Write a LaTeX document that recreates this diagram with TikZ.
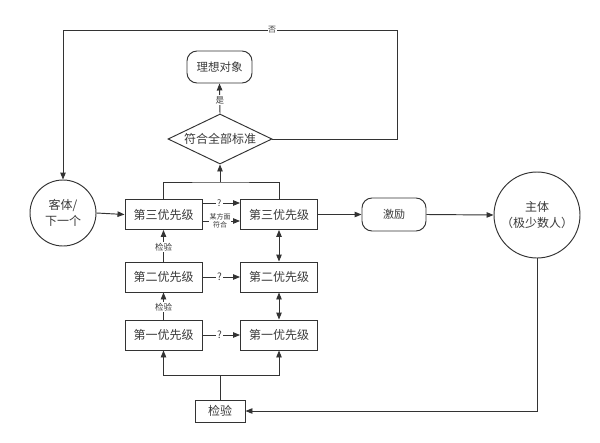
\documentclass[tikz,border=0pt]{standalone}
\usepackage{fontspec}
\setmainfont{Noto Sans CJK SC}
\usetikzlibrary{arrows.meta,shapes.geometric,calc}
\definecolor{ln}{HTML}{333333}
\definecolor{tx}{HTML}{3A3A3A}
\begin{document}
\begin{tikzpicture}[x=1pt,y=-1pt,
  every node/.style={text=tx},
  line/.style={draw=ln,line width=0.95pt},
  arr/.style={line,-{Triangle[length=7pt,width=5.5pt]}},
  darr/.style={line,{Triangle[length=7pt,width=5.5pt]}-{Triangle[length=7pt,width=5.5pt]}},
  box/.style={draw=ln,line width=0.95pt,rectangle,minimum width=77pt,minimum height=30pt,inner sep=0pt,font=\fontsize{12}{14}\selectfont},
  rbox/.style={draw=ln,line width=0.95pt,rectangle,rounded corners=10pt,inner sep=0pt,font=\fontsize{11.5}{14}\selectfont},
  circ/.style={draw=ln,line width=0.95pt,circle,inner sep=0pt,align=center,font=\fontsize{12}{16}\selectfont},
  lbl/.style={fill=white,inner sep=1pt,font=\fontsize{8.5}{10}\selectfont},
  tiny/.style={fill=white,inner sep=0.5pt,align=center,font=\fontsize{7}{8.5}\selectfont}]
\useasboundingbox (0,0) rectangle (600,442);
\fill[white] (0,0) rectangle (600,442);

\node[circ,minimum size=66pt] (guest) at (63,213) {客体/\\下一个};
\node[box] (b3L) at (163.5,214.5) {第三优先级};
\node[box] (b3R) at (279,214.5) {第三优先级};
\node[box] (b2L) at (163.5,277) {第二优先级};
\node[box] (b2R) at (279,277) {第二优先级};
\node[box] (b1L) at (163.5,335) {第一优先级};
\node[box] (b1R) at (279,335) {第一优先级};
\node[box,minimum width=50pt,minimum height=22pt] (check) at (220,411) {检验};
\node[draw=ln,line width=0.95pt,diamond,shape aspect=2.1,minimum width=104pt,minimum height=50pt,inner sep=0pt,font=\fontsize{12}{14}\selectfont] (dia) at (220,139) {符合全部标准};
\node[rbox,minimum width=65pt,minimum height=32pt] (ideal) at (219.5,67) {理想对象};
\node[rbox,minimum width=64pt,minimum height=33pt,font=\fontsize{11}{14}\selectfont] (inc) at (394,214.5) {激励};
\node[circ,minimum size=86pt] (subj) at (537,215) {主体\\（极少数人）};

\coordinate (j1) at (220,182);
\coordinate (j2) at (220,375);
\coordinate (c1) at (397,30);
\coordinate (c2) at (63,30);

% top loop
\draw[line] (b3L.north) |- (j1) -| (b3R.north);
\draw[arr] (j1) -- (dia.south);
\draw[arr] (dia.north) -- node[lbl,pos=0.45] (yes) {是} (ideal.south);
\draw[arr] (dia.east) -| (c1) -- (c2) -- (guest.north);
\node[lbl,font=\fontsize{8}{10}\selectfont,inner sep=0.5pt] (no) at (272,30) {否};

% main row
\draw[arr] (guest.east) -- (b3L.west);
\draw[arr] ([yshift=11.5pt]b3L.east) -- node[lbl,pos=0.45,font=\fontsize{9}{10}\selectfont] (q3) {?} ([yshift=11.5pt]b3R.west);
\draw[arr] ([yshift=-6.5pt]b3L.east) -- ([yshift=-6.5pt]b3R.west);
\node[tiny] (some) at (220,221) {某方面\\符合};
\draw[arr] (b3R.east) -- (inc.west);
\draw[arr] (inc.east) -- (subj.west);

% right column
\draw[darr] (b3R.south) -- (b2R.north);
\draw[darr] (b2R.south) -- (b1R.north);

% left column
\draw[arr] (b2L.north) -- node[lbl,pos=0.45] (k2) {检验} (b3L.south);
\draw[arr] (b1L.north) -- node[lbl,pos=0.45] (k1) {检验} (b2L.south);
\draw[arr] (b2L.east) -- node[lbl,pos=0.45,font=\fontsize{10}{10}\selectfont] (q2) {?} (b2R.west);
\draw[arr] (b1L.east) -- node[lbl,pos=0.45,font=\fontsize{10}{10}\selectfont] (q1) {?} (b1R.west);

% bottom
\draw[line] (check.north) -- (j2);
\draw[arr] (j2) -| (b1L.south);
\draw[arr] (j2) -| (b1R.south);
\draw[arr] (subj.south) |- (check.east);
\end{tikzpicture}
\end{document}
